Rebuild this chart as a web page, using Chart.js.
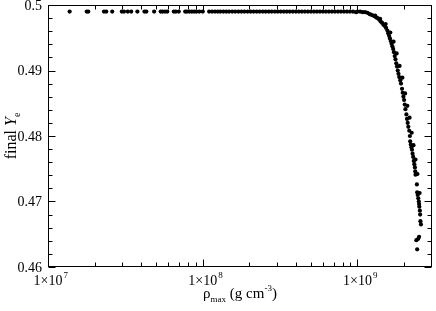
<!DOCTYPE html>
<html>
<head>
<meta charset="utf-8">
<script src="https://cdn.jsdelivr.net/npm/chart.js@4.4.1/dist/chart.umd.min.js"></script>
<style>
  html, body { margin: 0; padding: 0; background: #fff; }
  #wrap { width: 436px; height: 311px; position: relative; }
</style>
</head>
<body>
<div id="wrap"><canvas id="chart"></canvas></div>
<script>
// rho_max (g cm^-3) and final Ye
const rhoMax = [
  1.38e7, 1.78e7, 1.82e7, 2.3e7, 2.38e7, 2.6e7, 3.0e7, 3.1e7, 3.28e7, 3.45e7,
  3.78e7, 4.2e7, 4.32e7, 4.85e7, 5.35e7, 5.5e7, 5.7e7, 5.9e7, 6.5e7, 6.7e7,
  7.0e7, 7.7e7, 7.9e7, 8.2e7, 8.5e7, 8.8e7, 9.1e7, 9.5e7, 1.0e8,
  1.1e8, 1.15e8, 1.2e8, 1.25e8, 1.3e8, 1.36e8, 1.42e8, 1.48e8, 1.55e8, 1.62e8,
  1.7e8, 1.78e8, 1.86e8, 1.95e8, 2.04e8, 2.13e8, 2.23e8, 2.33e8, 2.44e8, 2.55e8,
  2.67e8, 2.79e8, 2.92e8, 3.05e8, 3.19e8, 3.34e8, 3.49e8, 3.65e8, 3.82e8, 4.0e8,
  4.18e8, 4.37e8, 4.57e8, 4.78e8, 5.0e8, 5.23e8, 5.47e8, 5.72e8, 5.98e8, 6.25e8,
  6.54e8, 6.84e8, 7.15e8, 7.48e8, 7.82e8, 8.18e8, 8.55e8, 8.94e8, 9.35e8, 9.78e8,
  1.0e9, 1.04e9, 1.08e9, 1.12e9, 1.16e9, 1.2e9, 1.23e9, 1.26e9, 1.29e9, 1.32e9,
  1.35e9, 1.38e9, 1.41e9, 1.44e9, 1.47e9, 1.5e9, 1.53e9, 1.56e9, 1.58e9, 1.6e9,
  1.62e9, 1.64e9, 1.66e9, 1.68e9, 1.7e9, 1.72e9, 1.74e9, 1.76e9, 1.78e9, 1.8e9,
  1.82e9, 1.84e9, 1.86e9, 1.89e9, 1.91e9, 1.94e9, 1.96e9, 1.98e9, 2.0e9, 2.02e9,
  2.04e9, 2.07e9, 2.09e9, 2.11e9, 2.13e9, 2.16e9, 2.18e9, 2.19e9, 2.21e9, 2.23e9,
  2.25e9, 2.27e9, 2.29e9, 2.31e9, 2.33e9, 2.35e9, 2.36e9, 2.37e9, 2.42e9, 2.43e9,
  2.45e9, 2.47e9, 2.49e9, 2.5e9, 2.51e9, 2.53e9, 2.54e9, 2.55e9, 2.57e9, 2.5e9,
  2.47e9, 2.4e9, 2.43e9,
  // second branch, a little to the right, gives the band its width
  1.3e9, 1.4e9, 1.52e9, 1.63e9, 1.71e9, 1.79e9, 1.87e9, 1.95e9, 2.03e9, 2.1e9,
  2.17e9, 2.24e9, 2.3e9, 2.37e9, 2.44e9, 2.52e9
];
const finalYe = [
  0.4990, 0.4990, 0.4990, 0.4990, 0.4990, 0.4990, 0.4990, 0.4990, 0.4990, 0.4990,
  0.4990, 0.4990, 0.4990, 0.4990, 0.4990, 0.4990, 0.4990, 0.4990, 0.4990, 0.4990,
  0.4990, 0.4990, 0.4990, 0.4990, 0.4990, 0.4990, 0.4990, 0.4990, 0.4990,
  0.4990, 0.4990, 0.4990, 0.4990, 0.4990, 0.4990, 0.4990, 0.4990, 0.4990, 0.4990,
  0.4990, 0.4990, 0.4990, 0.4990, 0.4990, 0.4990, 0.4990, 0.4990, 0.4990, 0.4990,
  0.4990, 0.4990, 0.4990, 0.4990, 0.4990, 0.4990, 0.4990, 0.4990, 0.4990, 0.4990,
  0.4990, 0.4990, 0.4990, 0.4990, 0.4990, 0.4990, 0.4990, 0.4990, 0.4990, 0.4990,
  0.4990, 0.4990, 0.4990, 0.4990, 0.4990, 0.4990, 0.4990, 0.4990, 0.4990, 0.4989,
  0.4990, 0.4990, 0.4989, 0.4989, 0.4988, 0.4986, 0.4985, 0.4984, 0.4983, 0.4981,
  0.4980, 0.4978, 0.4975, 0.4973, 0.4970, 0.4968, 0.4965, 0.4961, 0.4957, 0.4953,
  0.4949, 0.4945, 0.4941, 0.4937, 0.4933, 0.4928, 0.4922, 0.4917, 0.4911, 0.4906,
  0.4900, 0.4895, 0.4890, 0.4885, 0.4880, 0.4872, 0.4866, 0.4860, 0.4855, 0.4848,
  0.4841, 0.4833, 0.4826, 0.4820, 0.4814, 0.4808, 0.4800, 0.4792, 0.4787, 0.4783,
  0.4779, 0.4773, 0.4768, 0.4762, 0.4757, 0.4752, 0.4746, 0.4741, 0.4726, 0.4714,
  0.4710, 0.4705, 0.4700, 0.4696, 0.4692, 0.4686, 0.4680, 0.4670, 0.4665, 0.4646,
  0.4643, 0.4641, 0.4627,
  0.4984, 0.4979, 0.4971, 0.4958, 0.4944, 0.4926, 0.4907, 0.4889, 0.4865, 0.4846,
  0.4828, 0.4805, 0.4786, 0.4764, 0.4742, 0.4713
];

const yTicks = [0.46, 0.47, 0.48, 0.49, 0.5];
const yTickLabels = ['0.46', '0.47', '0.48', '0.49', '0.5'];
const xDecades = [1e7, 1e8, 1e9];
const xExponents = ['7', '8', '9'];

const SERIF = '"Liberation Serif", "DejaVu Serif", serif';

// frame, inward ticks and all the text (super/subscripts need manual drawing)
const frameAndLabels = {
  id: 'frameAndLabels',
  afterDraw(chart) {
    const { ctx, chartArea: a, scales: { x, y } } = chart;
    ctx.save();
    ctx.strokeStyle = '#000';
    ctx.lineWidth = 1;
    ctx.strokeRect(Math.round(a.left) + 0.5, Math.round(a.top) + 0.5,
      Math.round(a.right - a.left) - 1, Math.round(a.bottom - a.top) - 1);

    const L = Math.round(a.left) + 0.5, R = Math.round(a.right) - 0.5;
    const T = Math.round(a.top) + 0.5, B = Math.round(a.bottom) - 0.5;

    ctx.beginPath();
    // y ticks every 0.002, major every 0.01
    for (let i = 0; i <= 20; i++) {
      const v = 0.46 + i * 0.002;
      const py = Math.round(y.getPixelForValue(v)) + 0.5;
      const len = (i % 5 === 0) ? 7 : 4;
      ctx.moveTo(L, py); ctx.lineTo(L + len, py);
      ctx.moveTo(R, py); ctx.lineTo(R - len, py);
    }
    // x ticks, log decades + minors
    for (let d = 7; d <= 9; d++) {
      for (let k = 1; k <= 9; k++) {
        const v = k * Math.pow(10, d);
        if (v < x.min || v > x.max) continue;
        const px = Math.round(x.getPixelForValue(v)) + 0.5;
        const len = (k === 1) ? 7 : 4;
        ctx.moveTo(px, B); ctx.lineTo(px, B - len);
        ctx.moveTo(px, T); ctx.lineTo(px, T + len);
      }
    }
    ctx.stroke();

    ctx.fillStyle = '#000';
    // y tick labels
    ctx.font = '14px ' + SERIF;
    ctx.textAlign = 'right';
    ctx.textBaseline = 'middle';
    yTicks.forEach((v, i) => {
      ctx.fillText(yTickLabels[i], a.left - 6, y.getPixelForValue(v) + 1);
    });

    // x tick labels 1x10^n
    ctx.textBaseline = 'alphabetic';
    xDecades.forEach((v, i) => {
      const px = x.getPixelForValue(v);
      ctx.font = '14px ' + SERIF;
      ctx.textAlign = 'center';
      const base = '1\u00d710';
      const w = ctx.measureText(base).width;
      ctx.fillText(base, px, 285);
      ctx.textAlign = 'left';
      ctx.font = '9px ' + SERIF;
      ctx.fillText(xExponents[i], px + w / 2 + 1, 278);
    });

    // x title: rho_max (g cm^-3)
    const parts = [
      { t: '\u03c1', f: '15px ' + SERIF, dy: 0 },
      { t: 'max', f: '9px ' + SERIF, dy: 4 },
      { t: ' (g cm', f: '15px ' + SERIF, dy: 0 },
      { t: '-3', f: '9px ' + SERIF, dy: -7 },
      { t: ')', f: '15px ' + SERIF, dy: 0 }
    ];
    let total = 0;
    parts.forEach(p => { ctx.font = p.f; p.w = ctx.measureText(p.t).width; total += p.w; });
    let cx = (a.left + a.right) / 2 - total / 2;
    ctx.textAlign = 'left';
    parts.forEach(p => { ctx.font = p.f; ctx.fillText(p.t, cx, 298 + p.dy); cx += p.w; });

    // y title: final Y_e, rotated
    ctx.translate(16, (a.top + a.bottom) / 2);
    ctx.rotate(-Math.PI / 2);
    const yparts = [
      { t: 'final ', f: '16px ' + SERIF, dy: 0 },
      { t: 'Y', f: 'italic 16px ' + SERIF, dy: 0 },
      { t: 'e', f: '10px ' + SERIF, dy: 4 }
    ];
    total = 0;
    yparts.forEach(p => { ctx.font = p.f; p.w = ctx.measureText(p.t).width; total += p.w; });
    cx = -total / 2;
    yparts.forEach(p => { ctx.font = p.f; ctx.fillText(p.t, cx, p.dy); cx += p.w; });
    ctx.restore();
  }
};

const points = rhoMax.map((r, i) => ({ x: r, y: finalYe[i] }));

new Chart(document.getElementById('chart'), {
  type: 'scatter',
  data: {
    datasets: [{
      data: points,
      pointRadius: 2.1,
      pointBackgroundColor: '#000',
      pointBorderWidth: 0
    }]
  },
  options: {
    responsive: true,
    maintainAspectRatio: false,
    animation: false,
    layout: { padding: { left: 48, top: 5, right: 1, bottom: 44 } },
    plugins: { legend: { display: false }, tooltip: { enabled: false } },
    scales: {
      x: { type: 'logarithmic', min: 1e7, max: 3.03e9, display: false },
      y: { type: 'linear', min: 0.46, max: 0.5, display: false }
    }
  },
  plugins: [frameAndLabels]
});
</script>
</body>
</html>
